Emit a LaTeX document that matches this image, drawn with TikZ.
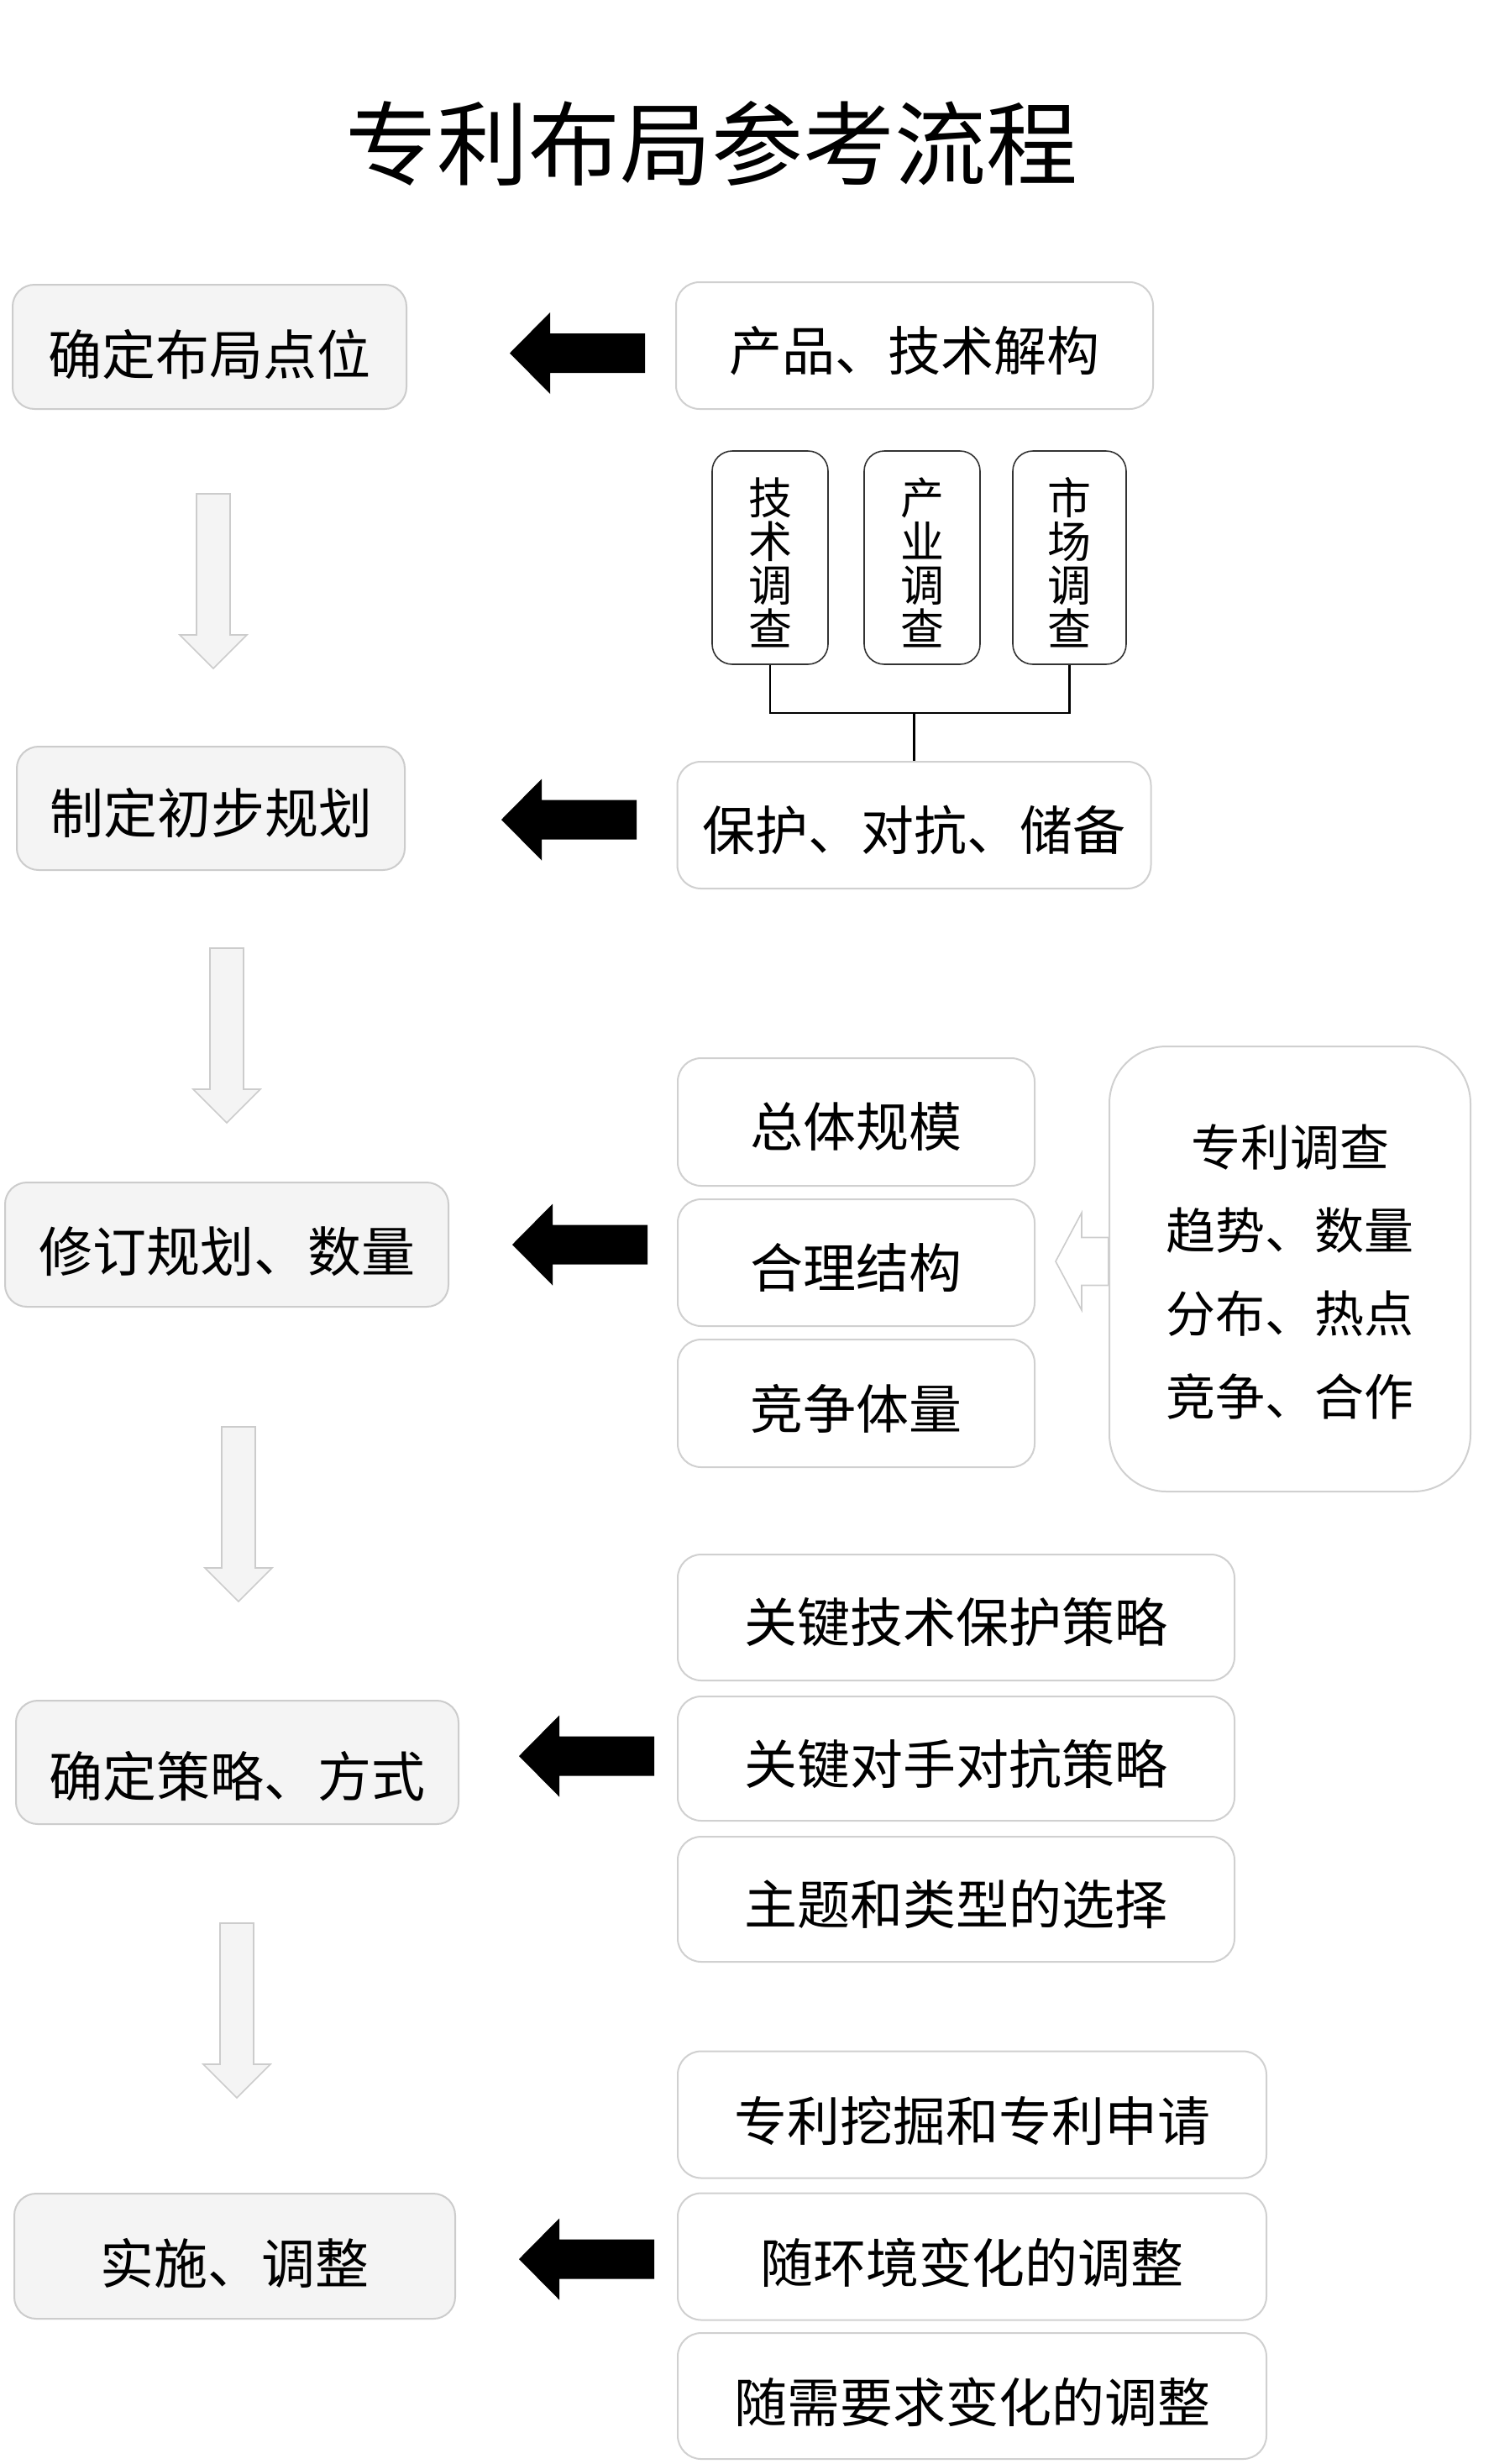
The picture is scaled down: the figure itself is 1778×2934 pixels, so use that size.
\documentclass[tikz,border=0pt]{standalone}
\usepackage{fontspec}
\setmainfont{Noto Sans CJK SC}
\usetikzlibrary{calc}
\definecolor{lfill}{HTML}{F4F4F4}
\definecolor{lborder}{HTML}{CCCCCC}
\definecolor{rborder}{HTML}{D0D0D0}
\definecolor{vborder}{HTML}{333333}
\tikzset{
  leftbox/.style={draw=lborder, fill=lfill, line width=2pt, rounded corners=26pt, inner sep=0pt},
  rightbox/.style={draw=rborder, fill=white, line width=2pt, rounded corners=28pt, inner sep=0pt},
  vbox/.style={draw=vborder, fill=white, line width=1.6pt, rounded corners=24pt, inner sep=0pt},
  bigbox/.style={draw=rborder, fill=white, line width=2pt, rounded corners=68pt, inner sep=0pt},
  ltext/.style={inner sep=0pt, font=\fontsize{64}{64}\selectfont},
  rtext/.style={inner sep=0pt, font=\fontsize{63}{63}\selectfont},
  vtext/.style={inner sep=0pt, align=center, font=\fontsize{52}{52}\selectfont},
  bigtext/.style={inner sep=0pt, align=center, font=\fontsize{59}{99}\selectfont},
  conn/.style={draw=black, line width=2.6pt},
  pics/blkarrow/.style={code={
    \fill[black] (0,0) -- (48,-48.5) -- (48,-23.5) -- (161,-23.5) -- (161,23.5) -- (48,23.5) -- (48,48.5) -- cycle;}},
  pics/downarrow/.style={code={
    \draw[draw=lborder, fill=lfill, line width=1.6pt] (-20,0) -- (20,0) -- (20,168) -- (40,168) -- (0,208) -- (-40,168) -- (-20,168) -- cycle;}},
  pics/hollowarrow/.style={code={
    \draw[draw=lborder, fill=white, line width=1.6pt] (0,0) -- (31,-58) -- (31,-28.5) -- (63,-28.5) -- (63,28.5) -- (31,28.5) -- (31,58) -- cycle;}},
}
\begin{document}
\begin{tikzpicture}[x=1pt, y=-1pt]
\useasboundingbox (0,0) rectangle (1778,2934);
\fill[white] (0,0) rectangle (1778,2934);

% title
\node[inner sep=0pt, font=\fontsize{109}{109}\selectfont] (title) at (847,171) {专利布局参考流程};

% left column
\node[leftbox, minimum width=469pt, minimum height=148pt] (l1) at (249.5,413) {};
\node[ltext] (t1) at ([yshift=-9pt]l1.center) {确定布局点位};
\node[leftbox, minimum width=462pt, minimum height=147pt] (l2) at (251,962.5) {};
\node[ltext] (t2) at ([yshift=-6pt]l2.center) {制定初步规划};
\node[leftbox, minimum width=528pt, minimum height=148pt] (l3) at (270,1482) {};
\node[ltext] (t3) at ([yshift=-8pt]l3.center) {修订规划、数量};
\node[leftbox, minimum width=527pt, minimum height=147pt] (l4) at (282.5,2098.5) {};
\node[ltext] (t4) at ([yshift=-17pt]l4.center) {确定策略、方式};
\node[leftbox, minimum width=525pt, minimum height=149pt] (l5) at (279.5,2686.5) {};
\node[ltext] (t5) at ([yshift=-8pt]l5.center) {实施、调整};

% down arrows
\pic at (254,588) {downarrow};
\pic at (270,1129) {downarrow};
\pic at (284,1699) {downarrow};
\pic at (282,2290) {downarrow};

% black arrows
\pic at (607,420.5) {blkarrow};
\pic at (597,976) {blkarrow};
\pic at (610,1482) {blkarrow};
\pic at (618,2091) {blkarrow};
\pic at (618,2690) {blkarrow};

% right column
\node[rightbox, minimum width=568pt, minimum height=151pt] (r1) at (1089,411.5) {};
\node[rtext] (s1) at ([yshift=-6pt]r1.center) {产品、技术解构};

\node[vbox, minimum width=138pt, minimum height=254pt] (v1) at (917,664) {};
\node[vtext] (u1) at ([yshift=-6pt]v1.center) {技\\术\\调\\查};
\node[vbox, minimum width=138pt, minimum height=254pt] (v2) at (1098,664) {};
\node[vtext] (u2) at ([yshift=-6pt]v2.center) {产\\业\\调\\查};
\node[vbox, minimum width=135pt, minimum height=254pt] (v3) at (1273.5,664) {};
\node[vtext] (u3) at ([yshift=-6pt]v3.center) {市\\场\\调\\查};

\node[rightbox, minimum width=564pt, minimum height=151pt] (r2) at (1088.5,982.5) {};
\node[rtext] (s2) at ([yshift=-6pt]r2.center) {保护、对抗、储备};

\coordinate (j) at (r2.north |- 0,849);
\draw[conn] (v1.south) |- (j) -| (v3.south);
\draw[conn] (j) -- (r2.north);

\node[rightbox, minimum width=425pt, minimum height=152pt] (r3) at (1019.5,1336) {};
\node[rtext] (s3) at ([yshift=-6pt]r3.center) {总体规模};
\node[rightbox, minimum width=425pt, minimum height=151pt] (r4) at (1019.5,1503.5) {};
\node[rtext] (s4) at ([yshift=-6pt]r4.center) {合理结构};
\node[rightbox, minimum width=425pt, minimum height=152pt] (r5) at (1019.5,1671) {};
\node[rtext] (s5) at ([yshift=-6pt]r5.center) {竞争体量};

\pic at (1257,1502) {hollowarrow};
\node[bigbox, minimum width=430pt, minimum height=530pt] (big) at (1536,1511) {};
\node[bigtext] (bt) at ([yshift=-3pt]big.center) {专利调查\\趋势、数量\\分布、热点\\竞争、合作};

\node[rightbox, minimum width=663pt, minimum height=150pt] (r6) at (1138.5,1926) {};
\node[rtext] (s6) at ([yshift=-6pt]r6.center) {关键技术保护策略};
\node[rightbox, minimum width=663pt, minimum height=148pt] (r7) at (1138.5,2094) {};
\node[rtext] (s7) at ([yshift=-6pt]r7.center) {关键对手对抗策略};
\node[rightbox, minimum width=663pt, minimum height=149pt] (r8) at (1138.5,2261.5) {};
\node[rtext] (s8) at ([yshift=-6pt]r8.center) {主题和类型的选择};

\node[rightbox, minimum width=701pt, minimum height=151pt] (r9) at (1157.5,2518) {};
\node[rtext] (s9) at ([yshift=-7pt]r9.center) {专利挖掘和专利申请};
\node[rightbox, minimum width=701pt, minimum height=151pt] (r10) at (1157.5,2687) {};
\node[rtext] (s10) at ([yshift=-7pt]r10.center) {随环境变化的调整};
\node[rightbox, minimum width=701pt, minimum height=150pt] (r11) at (1157.5,2853) {};
\node[rtext] (s11) at ([yshift=-7pt]r11.center) {随需要求变化的调整};
\end{tikzpicture}
\end{document}
